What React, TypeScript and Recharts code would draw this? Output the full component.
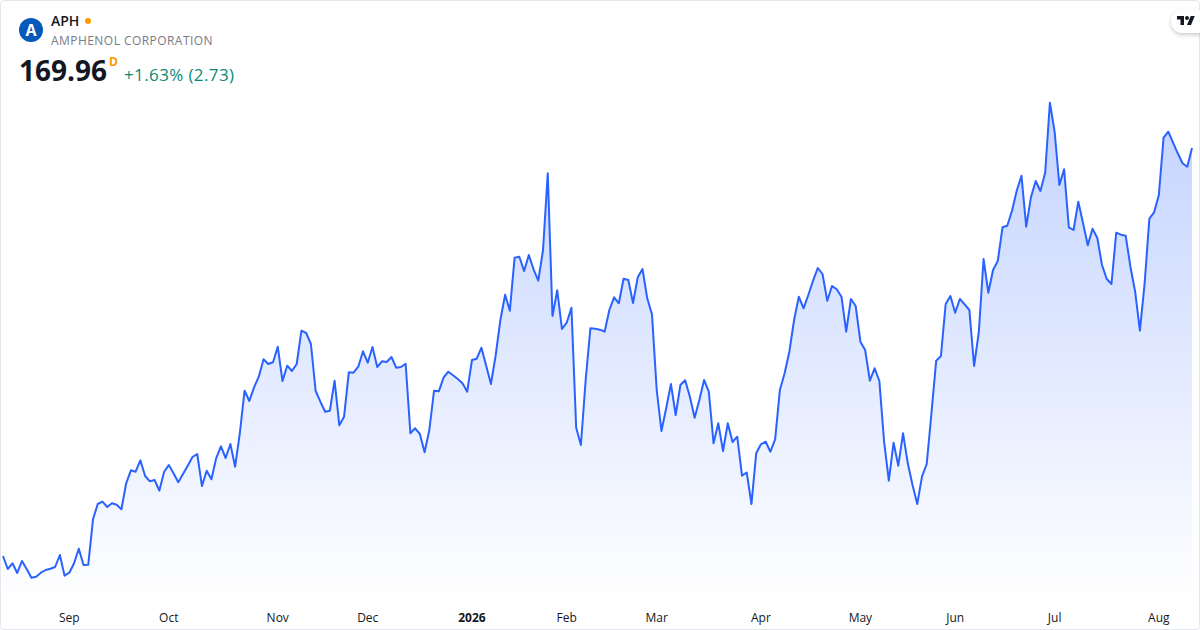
import React from "react";
import { ComposedChart, Area, XAxis, YAxis } from "recharts";

const closes: number[] = [
  88.36, 85.76, 86.90, 84.96, 87.36, 85.76, 84.02, 84.22, 85.02, 85.56,
  85.82, 86.16, 88.56, 84.42, 85.02, 86.90, 89.82, 86.56, 86.62, 95.70,
  98.76, 99.22, 98.16, 98.90, 98.62, 97.70, 102.90, 105.50, 105.22, 107.50,
  104.36, 103.30, 103.56, 101.42, 105.16, 106.56, 104.90, 103.10, 104.76, 106.42,
  108.16, 108.76, 102.36, 105.42, 103.70, 107.90, 110.30, 107.96, 110.76, 106.22,
  112.96, 121.42, 119.36, 122.10, 124.22, 127.70, 126.76, 127.10, 130.22, 123.36,
  126.42, 125.36, 126.76, 133.42, 132.96, 130.76, 121.36, 119.22, 117.22, 117.42,
  123.42, 114.50, 116.22, 125.10, 125.02, 126.22, 129.30, 127.02, 130.16, 126.16,
  127.30, 127.16, 128.16, 126.02, 126.16, 126.82, 112.90, 113.90, 112.76, 109.10,
  113.56, 121.42, 121.30, 124.02, 125.22, 124.50, 123.76, 122.90, 121.22, 127.56,
  127.82, 130.02, 126.42, 122.76, 128.46, 135.56, 140.62, 137.42, 148.02, 148.22,
  145.36, 148.56, 145.70, 143.42, 149.56, 164.90, 136.36, 141.50, 133.76, 135.02,
  138.02, 114.02, 110.56, 123.56, 133.90, 133.82, 133.62, 133.22, 137.56, 140.10,
  138.90, 143.82, 143.56, 138.96, 144.10, 145.76, 139.90, 136.70, 121.56, 113.36,
  117.90, 122.76, 116.56, 122.56, 123.50, 120.22, 116.02, 119.56, 123.56, 121.22,
  110.90, 114.90, 109.36, 114.90, 111.16, 112.22, 104.42, 105.06, 98.76, 108.90,
  110.70, 111.22, 109.22, 111.70, 121.56, 124.90, 129.22, 135.56, 140.22, 137.90,
  140.56, 143.42, 145.96, 144.76, 139.42, 142.36, 141.70, 140.22, 133.22, 139.76,
  138.36, 131.22, 129.56, 123.42, 125.90, 123.36, 111.22, 103.42, 111.02, 106.42,
  112.90, 106.90, 102.56, 98.76, 104.22, 106.76, 116.96, 127.42, 128.36, 138.76,
  140.36, 137.02, 139.76, 138.70, 137.56, 126.36, 133.16, 147.76, 141.02, 145.56,
  147.36, 154.10, 154.42, 157.42, 161.42, 164.42, 154.22, 160.10, 163.36, 161.36,
  165.02, 179.02, 173.22, 162.56, 165.70, 154.10, 153.56, 159.22, 154.90, 150.50,
  153.82, 152.02, 146.56, 143.76, 142.76, 153.02, 152.62, 152.42, 146.22, 141.22,
  133.42, 142.90, 155.82, 157.10, 160.56, 172.02, 173.22, 171.02, 168.90, 166.90,
  166.22, 169.96,
];

const tickIndexes: number[] = [14, 35, 58, 77, 99, 119, 138, 160, 181, 201, 222, 244];
const tickLabels: string[] = ["Sep", "Oct", "Nov", "Dec", "2026", "Feb", "Mar", "Apr", "May", "Jun", "Jul", "Aug"];
const boldLabels: string[] = ["2026"];

const priceDomain: [number, number] = [73.56, 199.56];
const areaBase = 78.76;

const rows = closes.map((close, index) => ({ index, close }));

const FONT = '"Open Sans", sans-serif';

function TimeTick(props: any) {
  const { x, payload } = props;
  const label = tickLabels[tickIndexes.indexOf(payload.value)];
  return (
    <text
      x={x}
      y={622}
      textAnchor="middle"
      fontFamily={FONT}
      fontSize={12}
      fontWeight={boldLabels.includes(label) ? 700 : 400}
      fill="#131722"
    >
      {label}
    </text>
  );
}

const abs = (style: React.CSSProperties): React.CSSProperties => ({
  position: "absolute",
  whiteSpace: "nowrap",
  fontFamily: FONT,
  lineHeight: 1,
  ...style,
});

export default function App() {
  return (
    <div style={{ position: "fixed", left: 0, top: 0, width: 1200, height: 630, background: "#fff", overflow: "hidden" }}>
      <div style={{ position: "absolute", left: 0, top: 0 }}>
        <ComposedChart width={1200} height={630} data={rows} margin={{ top: 0, right: 8, bottom: -1, left: 3 }}>
          <defs>
            <linearGradient id="aphFill" x1="0" y1="0" x2="0" y2="1">
              <stop offset="0%" stopColor="#2962FF" stopOpacity={0.28} />
              <stop offset="100%" stopColor="#2962FF" stopOpacity={0} />
            </linearGradient>
          </defs>
          <XAxis
            dataKey="index"
            type="number"
            domain={[0, closes.length - 1]}
            ticks={tickIndexes}
            height={1}
            axisLine={false}
            tickLine={false}
            interval={0}
            tick={<TimeTick />}
          />
          <YAxis hide width={0} domain={priceDomain} allowDataOverflow />
          <Area
            dataKey="close"
            type="linear"
            baseValue={areaBase}
            stroke="#2962FF"
            strokeWidth={2}
            strokeLinejoin="round"
            fill="url(#aphFill)"
            fillOpacity={1}
            dot={false}
            activeDot={false}
            isAnimationActive={false}
          />
        </ComposedChart>
      </div>

      <div style={{ position: "absolute", inset: 0, boxSizing: "border-box", border: "1px solid #e4e6eb", borderRadius: 4, pointerEvents: "none" }} />

      <div style={{ ...abs({ left: 19, top: 18, width: 24, height: 24, borderRadius: 12, background: "#0559B8", color: "#fff", fontSize: 16, fontWeight: 700, textAlign: "center", lineHeight: "24px" }) }}>A</div>
      <div style={abs({ left: 51, top: 14, fontSize: 14, fontWeight: 600, color: "#131722" })}>APH</div>
      <div style={abs({ left: 85, top: 18, width: 6, height: 6, borderRadius: 3, background: "#FF9800" })} />
      <div style={abs({ left: 51, top: 35, fontSize: 12, color: "#787B86", letterSpacing: 0.45 })}>AMPHENOL CORPORATION</div>
      <div style={abs({ left: 19, top: 56, fontSize: 28, fontWeight: 700, color: "#131722" })}>169.96</div>
      <div style={abs({ left: 109, top: 56, fontSize: 12, fontWeight: 700, color: "#FF9800" })}>D</div>
      <div style={abs({ left: 124, top: 66, fontSize: 17, letterSpacing: 0.38, color: "#0A8A74" })}>+1.63% (2.73)</div>

      <div style={{ position: "absolute", left: 1171, top: 10, width: 40, height: 23, borderRadius: 12, background: "#fff", boxShadow: "0 2px 4px rgba(0,0,0,0.2)" }} />
      <svg style={{ position: "absolute", left: 1177, top: 14 }} width={18} height={14} viewBox="0 0 36 28">
        <path d="M14 22H7V11H0V4h14v18zM28 22h-8l7.5-18h8L28 22z" fill="#131722" />
        <circle cx="20" cy="8" r="4" fill="#131722" />
      </svg>
    </div>
  );
}
